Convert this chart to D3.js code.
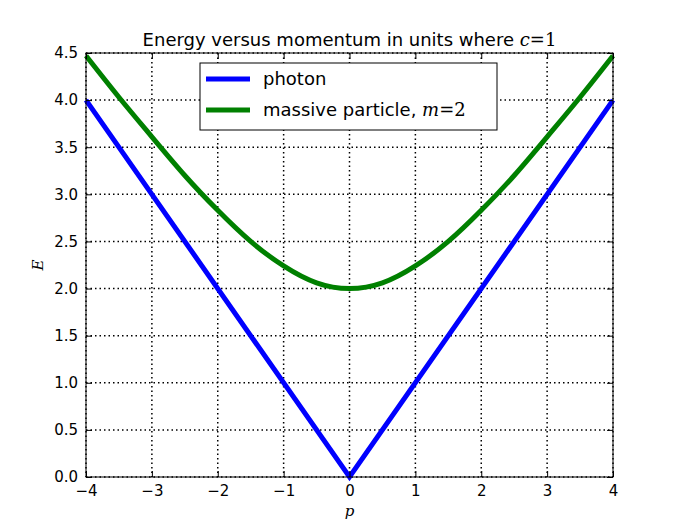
<!DOCTYPE html>
<meta charset="utf-8">
<style>
body { margin: 0; background: #fff; }
svg text { font-family: "DejaVu Sans", sans-serif; }
.grid line { stroke: #000; stroke-dasharray: 1.5,3; stroke-width: 1.5; }
.math { font-family: "DejaVu Serif", serif; font-style: italic; }
</style>
<body>
<div id="chart"></div>
<script src="https://d3js.org/d3.v7.min.js"></script>
<script>
// values
var photonP = [-4, 0, 4];
var photonE = [4, 0, 4];
var massiveP = [-4, -3.5, -3, -2.5, -2, -1.5, -1, -0.5, 0, 0.5, 1, 1.5, 2, 2.5, 3, 3.5, 4];
var massiveE = [4.47, 4.03, 3.61, 3.20, 2.83, 2.50, 2.24, 2.06, 2.0, 2.06, 2.24, 2.50, 2.83, 3.20, 3.61, 4.03, 4.47];
var xTicks = [-4, -3, -2, -1, 0, 1, 2, 3, 4];
var yTicks = [0, 0.5, 1, 1.5, 2, 2.5, 3, 3.5, 4, 4.5];

var W = 681, H = 531;
var margin = {top: 53, right: 68, bottom: 54, left: 86},
    width = W - margin.left - margin.right,
    height = H - margin.top - margin.bottom;

var svg = d3.select("#chart").append("svg")
    .attr("width", W).attr("height", H);
var g = svg.append("g")
    .attr("transform", "translate(" + margin.left + "," + margin.top + ")");

var x = d3.scaleLinear().domain([-4, 4]).range([0, width]);
var y = d3.scaleLinear().domain([0, 4.5]).range([height, 0]);

// grid
var grid = g.append("g").attr("class", "grid");
grid.selectAll(".gx").data(xTicks).enter().append("line")
    .attr("x1", d => x(d)).attr("x2", d => x(d)).attr("y1", 0).attr("y2", height);
grid.selectAll(".gy").data(yTicks).enter().append("line")
    .attr("y1", d => y(d)).attr("y2", d => y(d)).attr("x1", 0).attr("x2", width);

var line = d3.line().x(d => x(d[0])).y(d => y(d[1]));
g.append("path").datum(photonP.map((p, i) => [p, photonE[i]]))
    .attr("d", line).attr("fill", "none").attr("stroke", "#0000ff").attr("stroke-width", 5);
g.append("path").datum(massiveP.map((p, i) => [p, massiveE[i]]))
    .attr("d", line.curve(d3.curveNatural)).attr("fill", "none").attr("stroke", "#008000").attr("stroke-width", 5);

// axes, ticks inward
function styleAxis(sel) {
  sel.select(".domain").remove();
  sel.selectAll("text").attr("font-size", 15).attr("fill", "#000");
}
g.append("g").attr("transform", "translate(0," + height + ")")
  .call(d3.axisBottom(x).tickValues(xTicks).tickFormat(d3.format("d")).tickSizeInner(-6).tickPadding(8))
  .call(styleAxis);
g.append("g")
  .call(d3.axisTop(x).tickValues(xTicks).tickFormat("").tickSizeInner(-6)).call(styleAxis);
g.append("g")
  .call(d3.axisLeft(y).tickValues(yTicks).tickFormat(d3.format(".1f")).tickSizeInner(-6).tickPadding(8))
  .call(styleAxis);
g.append("g").attr("transform", "translate(" + width + ",0)")
  .call(d3.axisRight(y).tickValues(yTicks).tickFormat("").tickSizeInner(-6)).call(styleAxis);

g.append("rect").attr("width", width).attr("height", height)
  .attr("fill", "none").attr("stroke", "#000").attr("stroke-width", 1);

// title
var t = svg.append("text").attr("x", margin.left + width / 2).attr("y", 46)
  .attr("text-anchor", "middle").attr("font-size", 18);
t.append("tspan").text("Energy versus momentum in units where ");
t.append("tspan").attr("class", "math").text("c");
t.append("tspan").attr("class", "math").style("font-style", "normal").text("=1");

// axis labels
svg.append("text").attr("class", "math").attr("x", margin.left + width / 2).attr("y", 516)
  .attr("text-anchor", "middle").attr("font-size", 15).text("p");
svg.append("text").attr("class", "math").attr("transform", "translate(43," + (margin.top + height / 2) + ") rotate(-90)")
  .attr("text-anchor", "middle").attr("font-size", 15).text("E");

// legend
var lg = svg.append("g").attr("transform", "translate(200,63)");
lg.append("rect").attr("width", 297).attr("height", 67).attr("fill", "#fff").attr("stroke", "#000");
lg.append("line").attr("x1", 6).attr("x2", 50).attr("y1", 16).attr("y2", 16).attr("stroke", "#0000ff").attr("stroke-width", 5);
lg.append("line").attr("x1", 6).attr("x2", 50).attr("y1", 47).attr("y2", 47).attr("stroke", "#008000").attr("stroke-width", 5);
lg.append("text").attr("x", 63).attr("y", 22).attr("font-size", 18).text("photon");
var l2 = lg.append("text").attr("x", 63).attr("y", 53).attr("font-size", 18);
l2.append("tspan").text("massive particle, ");
l2.append("tspan").attr("class", "math").text("m");
l2.append("tspan").attr("class", "math").style("font-style", "normal").text("=2");
</script>
</body>
